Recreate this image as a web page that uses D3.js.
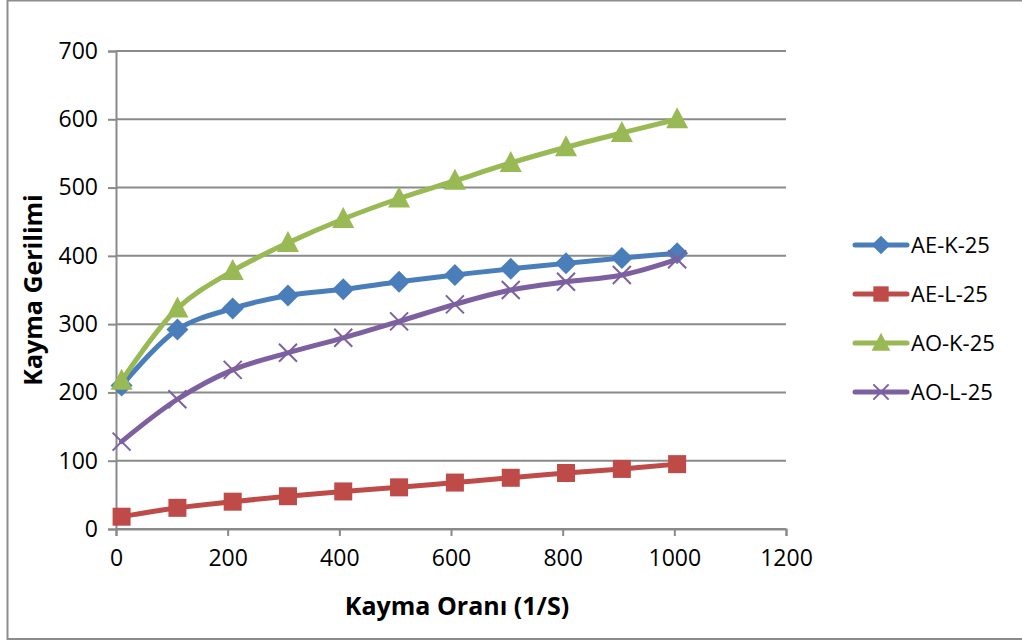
<!DOCTYPE html>
<html>
<head>
<meta charset="utf-8">
<script src="https://cdn.jsdelivr.net/npm/d3@7"></script>
<style>
  html, body { margin: 0; padding: 0; background: #fff; }
  svg { display: block; }
  text { font-family: "Open Sans", "Liberation Sans", sans-serif; fill: #000; }
</style>
</head>
<body>
<svg id="chart" width="1022" height="644"></svg>
<script>
// Shear rate (1/S) at which each sample was measured
const shearRate = [10, 110, 209, 308, 407, 507, 607, 707, 806, 906, 1005];

// Shear stress for each sample
const aeK25 = [210, 292, 323, 342, 351, 362, 372, 381, 389, 397, 404];
const aeL25 = [18, 31, 40, 48, 55, 61, 68, 75, 82, 88, 95];
const aoK25 = [217, 323, 378, 419, 454, 484, 510, 536, 559, 580, 600];
const aoL25 = [128, 190, 233, 258, 280, 304, 329, 350, 362, 372, 395];

const seriesNames = ["AE-K-25", "AE-L-25", "AO-K-25", "AO-L-25"];
const seriesValues = [aeK25, aeL25, aoK25, aoL25];

const xTicks = [0, 200, 400, 600, 800, 1000, 1200];
const yTicks = [0, 100, 200, 300, 400, 500, 600, 700];

const colors = ["#4a7ebb", "#be4b48", "#98b954", "#7d60a0"];
const markers = ["diamond", "square", "triangle", "cross"];

const svg = d3.select("#chart");

// Outer chart frame
svg.append("rect")
  .attr("x", 7.5).attr("y", 0.5)
  .attr("width", 1030).attr("height", 638.5)
  .attr("fill", "none").attr("stroke", "#8c8c8c").attr("stroke-width", 2);

const plot = { left: 116, right: 786, top: 51, bottom: 529 };

const x = d3.scaleLinear().domain([0, 1200]).range([plot.left, plot.right]);
const y = d3.scaleLinear().domain([0, 700]).range([plot.bottom, plot.top]);

// Horizontal gridlines
svg.append("g")
  .selectAll("line")
  .data(yTicks)
  .join("line")
  .attr("x1", plot.left).attr("x2", plot.right)
  .attr("y1", d => y(d)).attr("y2", d => y(d))
  .attr("stroke", "#8a8a8a").attr("stroke-width", 2);

// Y axis
const yAxis = svg.append("g")
  .attr("transform", `translate(${plot.left},0)`)
  .call(d3.axisLeft(y).tickValues(yTicks).tickFormat(d3.format("d")).tickSize(8).tickPadding(10));
yAxis.select(".domain").attr("stroke", "#8a8a8a").attr("stroke-width", 2);
yAxis.selectAll(".tick line").attr("stroke", "#8a8a8a").attr("stroke-width", 2);
yAxis.selectAll(".tick text").attr("font-size", 23).attr("fill", "#000")
  .style("font-family", '"Open Sans", sans-serif');

// X axis
const xAxis = svg.append("g")
  .attr("transform", `translate(0,${plot.bottom})`)
  .call(d3.axisBottom(x).tickValues(xTicks).tickFormat(d3.format("d")).tickSize(7).tickPadding(14));
xAxis.select(".domain").attr("stroke", "#8a8a8a").attr("stroke-width", 2);
xAxis.selectAll(".tick line").attr("stroke", "#8a8a8a").attr("stroke-width", 2);
xAxis.selectAll(".tick text").attr("font-size", 23).attr("fill", "#000")
  .style("font-family", '"Open Sans", sans-serif');

// Axis titles
svg.append("text")
  .attr("x", 457).attr("y", 615)
  .attr("text-anchor", "middle")
  .attr("font-size", 25).attr("font-weight", "bold")
  .text("Kayma Oranı (1/S)");

svg.append("text")
  .attr("transform", "translate(42,290) rotate(-90)")
  .attr("text-anchor", "middle")
  .attr("font-size", 25).attr("font-weight", "bold")
  .text("Kayma Gerilimi");

// Marker shapes
function drawMarker(g, type, color, cx, cy, s) {
  if (type === "diamond") {
    g.append("path")
      .attr("d", `M${cx},${cy - s * 0.55}L${cx + s * 0.55},${cy}L${cx},${cy + s * 0.55}L${cx - s * 0.55},${cy}Z`)
      .attr("fill", color);
  } else if (type === "square") {
    g.append("rect")
      .attr("x", cx - s * 0.45).attr("y", cy - s * 0.45)
      .attr("width", s * 0.9).attr("height", s * 0.9)
      .attr("fill", color);
  } else if (type === "triangle") {
    g.append("path")
      .attr("d", `M${cx},${cy - s * 0.6}L${cx + s * 0.55},${cy + s * 0.45}L${cx - s * 0.55},${cy + s * 0.45}Z`)
      .attr("fill", color);
  } else {
    const h = s * 0.45;
    g.append("path")
      .attr("d", `M${cx - h},${cy - h}L${cx + h},${cy + h}M${cx - h},${cy + h}L${cx + h},${cy - h}`)
      .attr("stroke", color).attr("stroke-width", 2).attr("fill", "none");
  }
}

const line = d3.line()
  .x(d => x(d[0]))
  .y(d => y(d[1]))
  .curve(d3.curveCatmullRom.alpha(0.5));

seriesValues.forEach((vals, i) => {
  const pts = shearRate.map((sr, j) => [sr, vals[j]]);
  const g = svg.append("g");
  g.append("path")
    .datum(pts)
    .attr("d", line)
    .attr("fill", "none")
    .attr("stroke", colors[i])
    .attr("stroke-width", 5)
    .attr("stroke-linejoin", "round")
    .attr("stroke-linecap", "round");
  pts.forEach(p => drawMarker(g, markers[i], colors[i], x(p[0]), y(p[1]), 20));
});

// Legend
const legend = svg.append("g");
seriesNames.forEach((name, i) => {
  const ly = 245 + i * 49;
  const g = legend.append("g");
  g.append("line")
    .attr("x1", 855).attr("x2", 907)
    .attr("y1", ly).attr("y2", ly)
    .attr("stroke", colors[i]).attr("stroke-width", 5)
    .attr("stroke-linecap", "round");
  drawMarker(g, markers[i], colors[i], 881, ly, 17);
  g.append("text")
    .attr("x", 911).attr("y", ly + 8)
    .attr("font-size", 22)
    .text(name);
});
</script>
</body>
</html>
